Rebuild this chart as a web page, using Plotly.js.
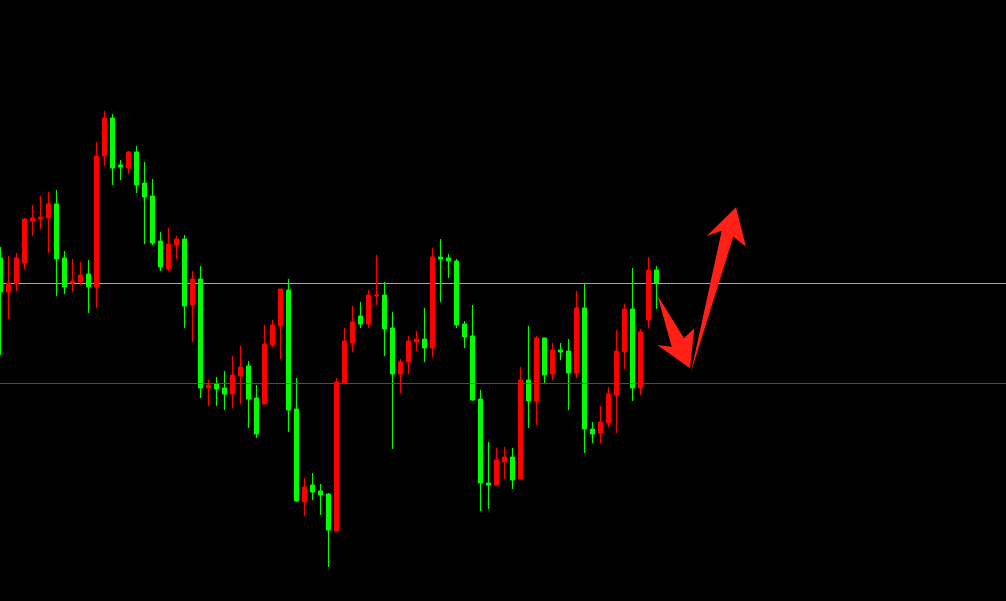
<!DOCTYPE html>
<html>
<head>
<meta charset="utf-8">
<script src="https://cdn.plot.ly/plotly-3.0.1.min.js"></script>
<style>
  html, body { margin: 0; padding: 0; background: #000; }
  #chart { width: 1006px; height: 601px; }
</style>
</head>
<body>
<div id="chart"></div>
<script>
// Bar index (one per candle)
const barIndex = Array.from({length: 83}, (_, i) => i);

const openValues = [343,309,317,338,380,382,383,397,343,318,319,327,314,445,483,436,433,449,418,405,
  360,332,356,362,296,322,213,217,213,207,225,235,203,197,256,275,311,192,99,116,
  110,107,70,218,258,285,277,305,306,273,227,239,259,262,253,344,343,340,277,265,
  202,118,116,139,144,122,221,200,263,227,251,250,228,293,172,168,178,206,249,292,
  213,281,331];
const highValues = [354,345,348,383,396,405,409,411,350,342,339,341,459,490,487,441,450,455,439,422,
  369,373,365,366,330,335,221,224,230,245,255,240,216,276,281,312,322,223,123,128,
  117,108,223,273,295,299,311,346,319,289,242,265,270,293,353,362,347,342,280,296,
  211,159,153,154,153,234,275,265,263,258,258,262,310,318,179,195,214,271,297,333,
  272,344,335];
const lowValues = [246,282,310,332,365,372,348,305,307,309,316,288,293,435,416,421,427,408,357,356,
  330,330,342,273,259,203,195,195,191,193,197,173,163,197,254,242,169,99,85,101,
  86,34,70,218,249,273,273,296,245,152,208,227,250,239,244,299,323,273,253,200,
  90,92,116,122,112,122,173,176,218,221,241,191,223,148,158,158,174,168,232,200,
  206,273,292];
const closeValues = [309,318,343,382,383,384,397,342,314,320,326,314,445,483,433,434,449,416,404,358,
  334,357,362,295,322,213,216,212,207,226,234,202,167,257,276,312,191,100,114,109,
  106,71,219,260,279,277,306,306,272,227,239,260,262,253,344,342,340,276,264,201,
  118,116,141,144,121,221,200,263,226,251,249,228,293,172,167,179,207,250,292,213,
  269,331,318];

// Horizontal levels drawn on the chart
const upperLevel = 317.5;
const lowerLevel = 217.5;

// Hand-drawn arrow annotations (pixel outline points of the drawing)
const W = 1006, H = 601;
const downArrow = [[657.3,295],[684,338.3],[694.3,328.3],[690,368.3],[657.3,345],[671.7,346.7]];
const upArrow = [[690.7,373.3],[721.7,230.7],[706.7,236],[736,207.3],[746,246.7],[733.3,236.7]];
function toPath(pts) {
  return pts.map((p, k) => (k ? 'L' : 'M') + (p[0] / W).toFixed(5) + ',' + (1 - p[1] / H).toFixed(5)).join(' ') + ' Z';
}

const trace = {
  type: 'candlestick',
  x: barIndex,
  open: openValues,
  high: highValues,
  low: lowValues,
  close: closeValues,
  increasing: { line: { color: '#ff0000', width: 1 }, fillcolor: '#ff0000' },
  decreasing: { line: { color: '#00ff00', width: 1 }, fillcolor: '#00ff00' },
  whiskerwidth: 0,
  showlegend: false,
  hoverinfo: 'none'
};

const layout = {
  width: 1006,
  height: 601,
  margin: { l: 0, r: 0, t: 0, b: 0, pad: 0 },
  paper_bgcolor: '#000000',
  plot_bgcolor: '#000000',
  showlegend: false,
  boxgap: 0.5,
  boxgroupgap: 0,
  xaxis: {
    range: [-0.0625, 125.6875],
    visible: false,
    showgrid: false,
    zeroline: false,
    rangeslider: { visible: false },
    fixedrange: true
  },
  yaxis: {
    range: [0, 601],
    visible: false,
    showgrid: false,
    zeroline: false,
    fixedrange: true
  },
  shapes: [
    { type: 'line', xref: 'paper', x0: 0, x1: 1, yref: 'y', y0: upperLevel, y1: upperLevel,
      line: { color: '#a4a4ac', width: 1 }, layer: 'below' },
    { type: 'line', xref: 'paper', x0: 0, x1: 1, yref: 'y', y0: lowerLevel, y1: lowerLevel,
      line: { color: '#ff0000', width: 1 }, layer: 'above' },
    { type: 'path', xref: 'paper', yref: 'paper', path: toPath(downArrow),
      fillcolor: '#ff2016', line: { width: 0 }, layer: 'above' },
    { type: 'path', xref: 'paper', yref: 'paper', path: toPath(upArrow),
      fillcolor: '#ff2016', line: { width: 0 }, layer: 'above' }
  ]
};

Plotly.newPlot('chart', [trace], layout, { displayModeBar: false, staticPlot: true });
</script>
</body>
</html>
